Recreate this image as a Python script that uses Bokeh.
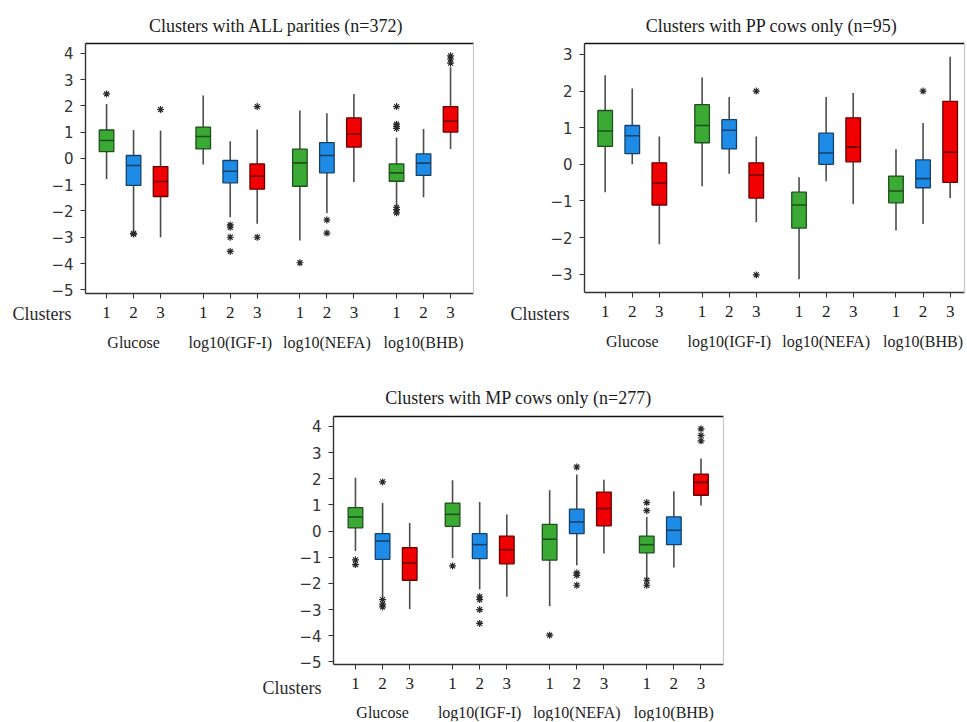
from bokeh.plotting import figure
from bokeh.models import FixedTicker, Label, LinearAxis, Spacer
from bokeh.layouts import column, row
from bokeh.embed import file_html
from bokeh.resources import INLINE

# ---------------- data ----------------
variables = ["Glucose", "log10(IGF-I)", "log10(NEFA)", "log10(BHB)"]
clusters = ["1", "2", "3"]
cluster_colors = ["#3aaa35", "#1e8ce6", "#f00000"]
cluster_edges = ["#1f4f1c", "#15406a", "#6a0000"]

# order: Glucose c1..c3, IGF-I c1..c3, NEFA c1..c3, BHB c1..c3
all_lo  = [-0.78, -2.74, -3.00, -0.23, -2.24, -2.49, -3.12, -2.08, -0.90, -1.79, -1.48, 0.36]
all_q1  = [0.26, -1.03, -1.45, 0.36, -0.93, -1.17, -1.06, -0.55, 0.43, -0.87, -0.65, 1.00]
all_med = [0.68, -0.27, -0.88, 0.83, -0.49, -0.68, -0.17, 0.11, 0.93, -0.55, -0.18, 1.41]
all_q3  = [1.08, 0.11, -0.31, 1.19, -0.08, -0.21, 0.35, 0.60, 1.54, -0.21, 0.17, 1.97]
all_hi  = [2.07, 1.08, 1.06, 2.39, 0.65, 1.10, 1.82, 1.72, 2.45, 0.78, 1.12, 3.47]
all_out_box = [0, 1, 1, 2, 4, 4, 4, 4, 5, 5, 6, 7, 7, 9, 9, 9, 9, 9, 9, 9, 11, 11, 11]
all_out_val = [2.45, -2.85, -2.88, 1.86, -2.53, -2.62, -3.00, -3.54, 1.97, -3.00, -3.97,
               -2.34, -2.84, 1.97, 1.30, 1.22, 1.14, -1.86, -1.95, -2.07, 3.90, 3.78, 3.62]

pp_lo  = [-0.76, 0.00, -2.18, -0.60, -0.26, -1.58, -3.14, -0.46, -1.08, -1.81, -1.63, -0.92]
pp_q1  = [0.49, 0.29, -1.11, 0.59, 0.42, -0.92, -1.74, 0.00, 0.07, -1.05, -0.64, -0.49]
pp_med = [0.91, 0.78, -0.51, 1.06, 0.93, -0.29, -1.11, 0.31, 0.47, -0.73, -0.39, 0.33]
pp_q3  = [1.47, 1.06, 0.04, 1.63, 1.22, 0.04, -0.76, 0.85, 1.27, -0.32, 0.12, 1.72]
pp_hi  = [2.43, 2.07, 0.76, 2.37, 1.84, 0.76, -0.35, 1.84, 1.95, 0.41, 1.13, 2.94]
pp_out_box = [5, 5, 10]
pp_out_val = [2.00, -3.02, 2.00]

mp_lo  = [-0.76, -2.51, -2.98, -1.03, -2.23, -2.51, -2.87, -1.31, -0.86, -1.81, -1.39, 0.98]
mp_q1  = [0.12, -1.08, -1.88, 0.18, -1.05, -1.25, -1.11, -0.10, 0.20, -0.83, -0.52, 1.37]
mp_med = [0.54, -0.38, -1.22, 0.64, -0.52, -0.71, -0.31, 0.35, 0.86, -0.52, 0.03, 1.86]
mp_q3  = [0.90, -0.10, -0.63, 1.07, -0.10, -0.19, 0.26, 0.84, 1.49, -0.19, 0.54, 2.18]
mp_hi  = [2.04, 1.07, 0.31, 1.94, 1.11, 0.63, 1.56, 2.16, 1.96, 0.54, 1.52, 2.77]
mp_out_box = [0, 0, 1, 1, 1, 1, 3, 4, 4, 4, 4, 6, 7, 7, 7, 7, 9, 9, 9, 9, 11, 11, 11]
mp_out_val = [-1.10, -1.28, 1.88, -2.62, -2.79, -2.90, -1.33, -2.51, -2.62, -3.00, -3.53,
              -3.98, 2.45, -1.60, -1.69, -2.07, 1.09, 0.78, -1.88, -2.07, 3.91, 3.66, 3.45]

all_yticks = [4, 3, 2, 1, 0, -1, -2, -3, -4, -5]
pp_yticks = [3, 2, 1, 0, -1, -2, -3]

# ---------------- layout / style ----------------
GROUP_STEP = 3.58
BOX_W = 0.54
SERIF = "Liberation Serif"
SANS = "DejaVu Sans"
INK = "#1c1c1c"
AXIS = "#333333"

positions = [g * GROUP_STEP + c for g in range(len(variables)) for c in range(len(clusters))]
box_colors = [cluster_colors[i % 3] for i in range(len(positions))]
box_edges = [cluster_edges[i % 3] for i in range(len(positions))]


def make_panel(title, lo, q1, med, q3, hi, out_box, out_val, yticks,
               fig_w, fig_h, box_px, box_data, title_px, clusters_px, numbers_standoff, groups_py):
    l, r, t, b = box_px            # plot-area edges in pixels within the figure
    x0, x1, y0, y1 = box_data      # data values at those edges
    sx = (x1 - x0) / (r - l)
    sy = (y1 - y0) / (b - t)

    def X(px):
        return x0 + (px - l) * sx

    def Y(py):
        return y1 - (py - t) * sy

    p = figure(title=None, width=fig_w, height=fig_h,
               x_range=(X(0), X(fig_w)), y_range=(Y(fig_h), Y(0)),
               output_backend="svg", toolbar_location=None, min_border=0,
               x_axis_location=None, y_axis_location=None,
               outline_line_color=None,
               background_fill_color="white", border_fill_color="white")
    p.xgrid.visible = False
    p.ygrid.visible = False

    # whiskers
    p.segment(x0=positions, y0=lo, x1=positions, y1=q1, line_color="#4d4d4d", line_width=1.6)
    p.segment(x0=positions, y0=q3, x1=positions, y1=hi, line_color="#4d4d4d", line_width=1.6)
    # boxes
    p.vbar(x=positions, width=BOX_W, bottom=q1, top=q3, fill_color=box_colors,
           line_color=box_edges, line_width=1.3)
    # medians
    p.segment(x0=[x - BOX_W / 2 for x in positions], y0=med,
              x1=[x + BOX_W / 2 for x in positions], y1=med,
              line_color=box_edges, line_width=1.6)
    # outliers
    p.scatter(x=[positions[k] for k in out_box], y=out_val, marker="asterisk",
              size=7, line_color="#2a2a2a", line_width=1.2)

    # axes drawn at the plot-area edges
    yax = LinearAxis(fixed_location=x0, bounds=(y0, y1), ticker=FixedTicker(ticks=yticks))
    yax.minor_tick_line_color = None
    yax.major_tick_out = 5
    yax.major_tick_in = 0
    yax.major_label_text_font = SANS
    yax.major_label_text_font_size = "15px"
    yax.major_label_text_color = "#333333"
    yax.major_label_standoff = 7
    yax.axis_line_color = AXIS
    yax.axis_line_width = 1.4
    yax.major_tick_line_color = AXIS
    p.add_layout(yax, "left")

    xax = LinearAxis(fixed_location=y0, bounds=(x0, x1), ticker=FixedTicker(ticks=positions))
    xax.major_label_overrides = {positions[i]: clusters[i % 3] for i in range(len(positions))}
    xax.minor_tick_line_color = None
    xax.major_tick_out = 5
    xax.major_tick_in = 0
    xax.major_label_text_font = SERIF
    xax.major_label_text_font_size = "17px"
    xax.major_label_text_color = INK
    xax.major_label_standoff = numbers_standoff
    xax.axis_line_color = AXIS
    xax.axis_line_width = 1.4
    xax.major_tick_line_color = AXIS
    p.add_layout(xax, "below")

    top = LinearAxis(fixed_location=y1, bounds=(x0, x1), ticker=FixedTicker(ticks=[]))
    top.major_label_text_font_size = "0px"
    top.minor_tick_line_color = None
    top.axis_line_color = "#111111"
    top.axis_line_width = 1.7
    p.add_layout(top, "above")

    right = LinearAxis(fixed_location=x1, bounds=(y0, y1), ticker=FixedTicker(ticks=[]))
    right.major_label_text_font_size = "0px"
    right.minor_tick_line_color = None
    right.axis_line_color = "#c8c8c8"
    right.axis_line_width = 1.2
    p.add_layout(right, "right")

    # title
    p.add_layout(Label(x=X(title_px[0]), y=Y(title_px[1]), text=title,
                       text_align="center", text_baseline="middle",
                       text_font=SERIF, text_font_size="18px", text_color=INK))
    # "Clusters"
    p.add_layout(Label(x=X(clusters_px[0]), y=Y(clusters_px[1]), text="Clusters",
                       text_align="left", text_baseline="middle",
                       text_font=SERIF, text_font_size="18px", text_color="#2a2a2a"))
    # variable names under cluster 2 of each group
    for g, name in enumerate(variables):
        p.add_layout(Label(x=positions[g * 3 + 1], y=Y(groups_py), text=name,
                           text_align="center", text_baseline="middle",
                           text_font=SERIF, text_font_size="16px", text_color=INK))
    return p


p1 = make_panel("Clusters with ALL parities (n=372)", all_lo, all_q1, all_med, all_q3, all_hi,
                all_out_box, all_out_val, all_yticks,
                480, 362, (85, 473, 43, 293), (-0.78, 13.59, -5.14, 4.37),
                (276, 25), (12, 313), 8, 342)
p2 = make_panel("Clusters with PP cows only (n=95)", pp_lo, pp_q1, pp_med, pp_q3, pp_hi,
                pp_out_box, pp_out_val, pp_yticks,
                486, 362, (104, 484, 43, 292), (-0.764, 13.27, -3.5, 3.3),
                (291, 25), (30, 313), 8, 341)
p3 = make_panel("Clusters with MP cows only (n=277)", mp_lo, mp_q1, mp_med, mp_q3, mp_hi,
                mp_out_box, mp_out_val, all_yticks,
                480, 359, (83, 473, 54, 302), (-0.81, 13.57, -5.10, 4.38),
                (268, 35), (12, 325), 8, 350)

layout = column(row(p1, p2), row(Spacer(width=250, height=10), p3))

open("out.html", "w").write(file_html(layout, INLINE))
